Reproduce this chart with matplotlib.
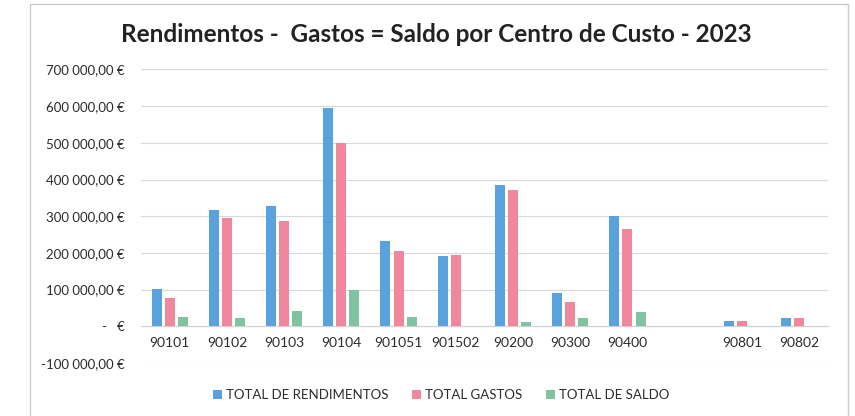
import numpy as np
import matplotlib.pyplot as plt
from matplotlib.ticker import FuncFormatter
from matplotlib.patches import Rectangle

centros = ['90101', '90102', '90103', '90104', '901051', '901502',
           '90200', '90300', '90400', '', '90801', '90802']
rendimentos = [103000, 317000, 328000, 596000, 233500, 191500,
               384000, 90000, 302000, 0, 14000, 24000]
gastos = [78000, 296000, 286000, 499000, 206000, 193500,
          372000, 67000, 264000, 0, 14000, 24000]
saldo = [24500, 22000, 42000, 99000, 24500, 0,
         11000, 22000, 38000, 0, 0, 0]

cores = ['#5aa2de', '#f0879d', '#7fc3a0']
nomes = ['TOTAL DE RENDIMENTOS', 'TOTAL GASTOS', 'TOTAL DE SALDO']

plt.rcParams['font.family'] = ['Lato', 'DejaVu Sans']

fig = plt.figure(figsize=(8.55, 4.16), dpi=100)
ax = fig.add_axes([0.165, 0.1274, 0.803, 0.7056])

x = np.arange(len(centros))
w = 0.175
off = 0.23
for i, serie in enumerate([rendimentos, gastos, saldo]):
    ax.bar(x + (i - 1) * off, serie, width=w, color=cores[i], label=nomes[i], zorder=3)

ax.set_xlim(-0.5, len(centros) - 0.5)
ax.set_ylim(-100000, 700000)
ax.set_yticks(np.arange(-100000, 700001, 100000))


def euro(v, pos):
    if v == 0:
        return '-   €'
    s = f'{abs(v):,.2f}'.replace(',', ' ').replace('.', ',')
    return ('-' if v < 0 else '') + s + ' €'


ax.yaxis.set_major_formatter(FuncFormatter(euro))
ax.set_xticks(x)
ax.set_xticklabels(centros, fontsize=10)
ax.spines['bottom'].set_position(('data', 0))
ax.spines['bottom'].set_color('#d0d0d0')
for s in ['top', 'right', 'left']:
    ax.spines[s].set_visible(False)
ax.tick_params(axis='both', length=0, labelsize=9.5, colors='#2b2b2b')
ax.tick_params(axis='x', pad=8, labelsize=10)
ax.tick_params(axis='y', pad=12)
ax.grid(axis='y', color='#d9d9d9', linewidth=0.8, zorder=0)

ax.set_title('Rendimentos -  Gastos = Saldo por Centro de Custo - 2023',
             fontsize=17.5, fontweight='bold', color='#222222', pad=20, x=0.43)

leg = fig.legend(loc='center', bbox_to_anchor=(0.516, 0.05), ncol=3, frameon=False,
                 fontsize=9.5, handlelength=0.7, handleheight=0.7, columnspacing=1.8,
                 handletextpad=0.3)
for t in leg.get_texts():
    t.set_color('#2b2b2b')

fig.patches.append(Rectangle((0.035, -0.01), 0.957, 1.0, transform=fig.transFigure,
                             fill=False, edgecolor='#cccccc', linewidth=1))

fig.savefig('out.png', dpi=100)
